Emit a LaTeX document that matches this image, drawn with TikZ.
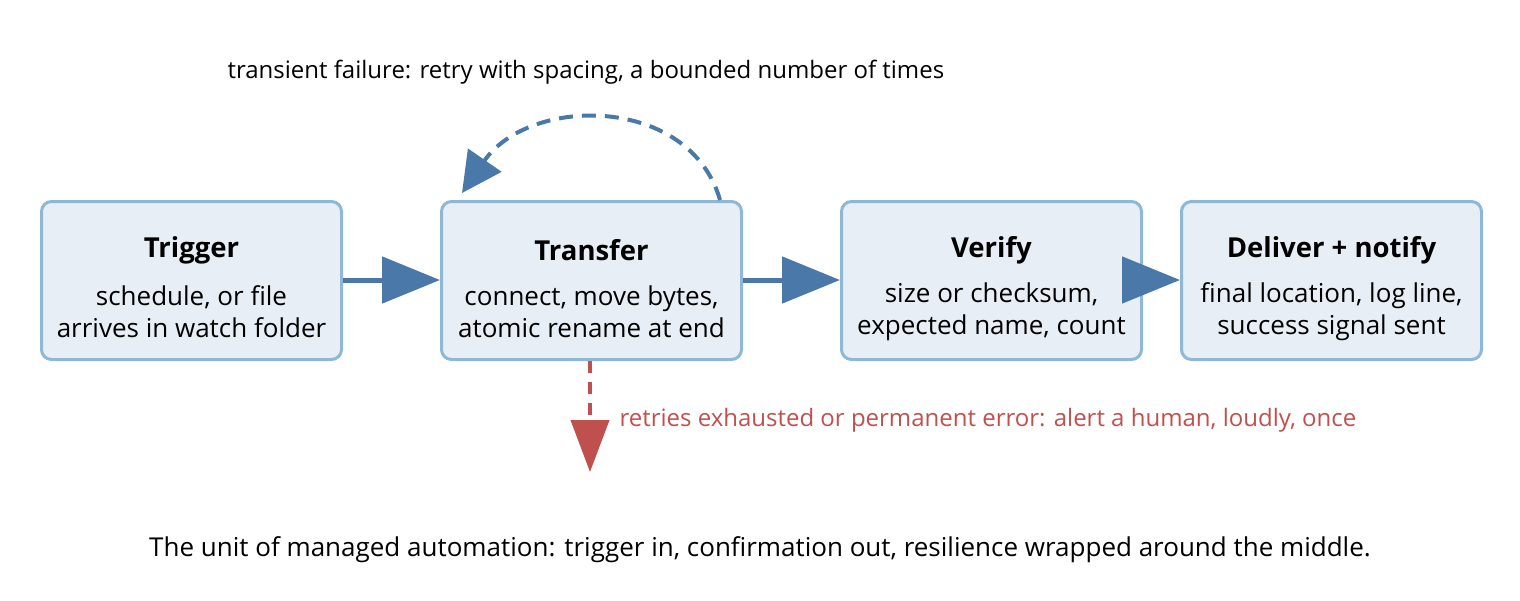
\documentclass[tikz,border=0pt]{standalone}
\usepackage{fontspec}
\setmainfont{Open Sans}
\usetikzlibrary{arrows.meta}
\definecolor{boxfill}{HTML}{E8EEF5}
\definecolor{boxline}{HTML}{8FB8D6}
\definecolor{arr}{HTML}{4A78A8}
\definecolor{red}{HTML}{C0504D}
\begin{document}
\begin{tikzpicture}[x=1pt,y=-1pt,
 box/.style={draw=boxline,fill=boxfill,line width=3pt,rounded corners=10pt,minimum width=300pt,minimum height=158pt,anchor=north west},
 ttl/.style={font=\fontsize{27.5}{30}\selectfont\bfseries},
 sub/.style={font=\fontsize{26}{32}\selectfont,align=center},
 flow/.style={draw=arr,line width=5pt,-{Triangle[length=58pt,width=46pt]}}]
\useasboundingbox (0,0) rectangle (1520,600);
\node[box] (trig) at (40,200) {};
\node[box] (tran) at (440,200) {};
\node[box] (ver) at (840,200) {};
\node[box] (del) at (1180,200) {};
\foreach \n/\t/\s in {trig/Trigger/{schedule, or file\\arrives in watch folder},
 tran/Transfer/{connect, move bytes,\\atomic rename at end},
 ver/Verify/{size or checksum,\\expected name, count},
 del/Deliver + notify/{final location, log line,\\success signal sent}}{
 \node[ttl] (\n t) at ([yshift=-50pt]\n.north) {\t};
 \node[sub] (\n s) at ([yshift=-112pt]\n.north) {\s};
}
\draw[flow] (trig.east |- 0,280) -- (tran.west |- 0,280);
\draw[flow] (tran.east |- 0,280) -- (ver.west |- 0,280);
\draw[flow,shorten <=-30pt] (ver.east |- 0,280) -- (del.west |- 0,280);
\coordinate (ls) at (720,200);
\coordinate (le) at (462,193);
\draw[arr,line width=4pt,dash pattern=on 14pt off 9pt,-{Triangle[length=40pt,width=40pt]}]
 (ls) .. controls (690,95) and (530,95) .. (le);
\node[font=\fontsize{24}{28}\selectfont,anchor=west] (top) at (224,72) {transient failure: retry with spacing, a bounded number of times};
\coordinate (re) at (590,472);
\draw[red,line width=4pt,dash pattern=on 12pt off 9pt,-{Triangle[length=52pt,width=38pt]}] (tran.south -| 590,0) -- (re);
\node[font=\fontsize{24}{28}\selectfont,anchor=west,text=red] (err) at (616,420) {retries exhausted or permanent error: alert a human, loudly, once};
\node[font=\fontsize{26}{30}\selectfont] (cap) at (760,550) {The unit of managed automation: trigger in, confirmation out, resilience wrapped around the middle.};
\end{tikzpicture}
\end{document}
